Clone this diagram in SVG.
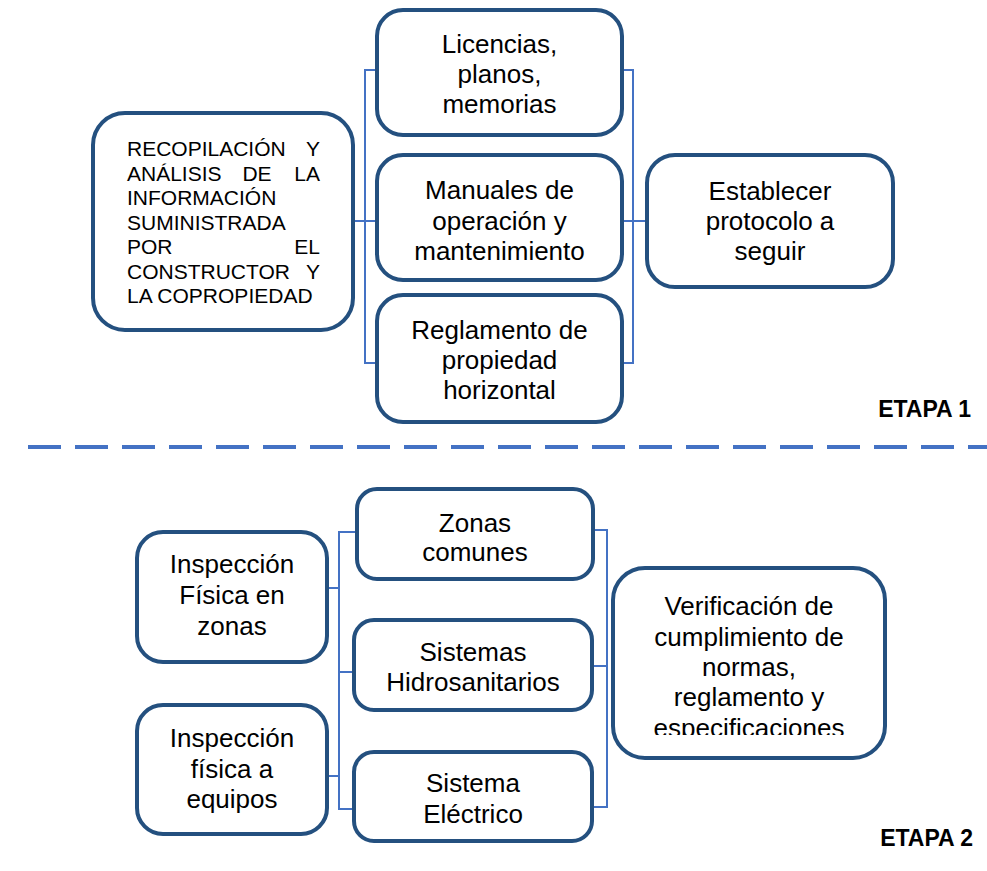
<svg xmlns="http://www.w3.org/2000/svg" width="987" height="871" viewBox="0 0 987 871">
<style>
.box{fill:#fff;stroke:#24507F;stroke-width:4}
.t{font-family:"Liberation Sans",Arial,sans-serif;font-size:26px;fill:#000;text-anchor:middle}
.s{font-family:"Liberation Sans",Arial,sans-serif;font-size:21px;fill:#000}
.e{font-family:"Liberation Sans",Arial,sans-serif;font-size:23px;font-weight:bold;fill:#000;text-anchor:end}
.c{fill:none;stroke:#4472C4;stroke-width:2}
</style>
<defs>
<clipPath id="clipV"><rect x="600" y="560" width="300" height="175"/></clipPath>
</defs>
<rect width="987" height="871" fill="#fff"/>
<g id="connectors">
<path class="c" d="M377 70H365V363H377M353 221H377"/>
<path class="c" d="M622 70H633V363H622M622 221H648"/>
<path class="c" d="M357 532H339V809H354M339 672H354M327 588H339M327 776H339"/>
<path class="c" d="M593 530H607V807H592M592 666H607"/>
</g>
<line x1="28" y1="447" x2="987" y2="447" stroke="#4472C4" stroke-width="4" stroke-dasharray="33 14"/>
<g id="recopilacion">
<rect class="box" x="93" y="113" width="260" height="217" rx="32"/>
<text class="s" x="127" y="156">RECOPILACIÓN</text><text class="s" x="320" y="156" text-anchor="end">Y</text>
<text class="s" x="127" y="180.5">ANÁLISIS</text><text class="s" x="257" y="180.5" text-anchor="middle">DE</text><text class="s" x="320" y="180.5" text-anchor="end">LA</text>
<text class="s" x="127" y="205">INFORMACIÓN</text>
<text class="s" x="127" y="229.5">SUMINISTRADA</text>
<text class="s" x="127" y="254">POR</text><text class="s" x="320" y="254" text-anchor="end">EL</text>
<text class="s" x="127" y="278.5">CONSTRUCTOR</text><text class="s" x="320" y="278.5" text-anchor="end">Y</text>
<text class="s" x="127" y="303">LA COPROPIEDAD</text>
</g>
<g id="licencias">
<rect class="box" x="377" y="10" width="245" height="125" rx="26"/>
<text class="t" x="499.5" y="53">Licencias,</text>
<text class="t" x="499.5" y="83">planos,</text>
<text class="t" x="499.5" y="113">memorias</text>
</g>
<g id="manuales">
<rect class="box" x="377" y="155" width="245" height="125" rx="26"/>
<text class="t" x="499.5" y="199">Manuales de</text>
<text class="t" x="499.5" y="230">operación y</text>
<text class="t" x="499.5" y="260">mantenimiento</text>
</g>
<g id="reglamento">
<rect class="box" x="377" y="295" width="245" height="127" rx="26"/>
<text class="t" x="499.5" y="339">Reglamento de</text>
<text class="t" x="499.5" y="369">propiedad</text>
<text class="t" x="499.5" y="399">horizontal</text>
</g>
<g id="establecer">
<rect class="box" x="647" y="155" width="246" height="132" rx="28"/>
<text class="t" x="770" y="200">Establecer</text>
<text class="t" x="770" y="230">protocolo a</text>
<text class="t" x="770" y="260">seguir</text>
</g>
<text class="e" x="971" y="417">ETAPA 1</text>
<g id="inspeccion-zonas">
<rect class="box" x="137" y="532" width="190" height="130" rx="26"/>
<text class="t" x="232" y="573">Inspección</text>
<text class="t" x="232" y="604">Física en</text>
<text class="t" x="232" y="635">zonas</text>
</g>
<g id="inspeccion-equipos">
<rect class="box" x="137" y="705" width="190" height="129" rx="26"/>
<text class="t" x="232" y="747">Inspección</text>
<text class="t" x="232" y="778">física a</text>
<text class="t" x="232" y="808">equipos</text>
</g>
<g id="zonas-comunes">
<rect class="box" x="357" y="489" width="236" height="90" rx="20"/>
<text class="t" x="475" y="532">Zonas</text>
<text class="t" x="475" y="561">comunes</text>
</g>
<g id="hidrosanitarios">
<rect class="box" x="354" y="620" width="238" height="90" rx="20"/>
<text class="t" x="473" y="661">Sistemas</text>
<text class="t" x="473" y="691">Hidrosanitarios</text>
</g>
<g id="electrico">
<rect class="box" x="354" y="752" width="238" height="89" rx="20"/>
<text class="t" x="473" y="792">Sistema</text>
<text class="t" x="473" y="823">Eléctrico</text>
</g>
<g id="verificacion">
<rect class="box" x="613" y="568" width="272" height="190" rx="32"/>
<g clip-path="url(#clipV)">
<text class="t" x="749" y="615">Verificación de</text>
<text class="t" x="749" y="645.5">cumplimiento de</text>
<text class="t" x="749" y="676">normas,</text>
<text class="t" x="749" y="706">reglamento y</text>
<text class="t" x="749" y="737">especificaciones</text>
</g>
</g>
<text class="e" x="973" y="846">ETAPA 2</text>
</svg>
